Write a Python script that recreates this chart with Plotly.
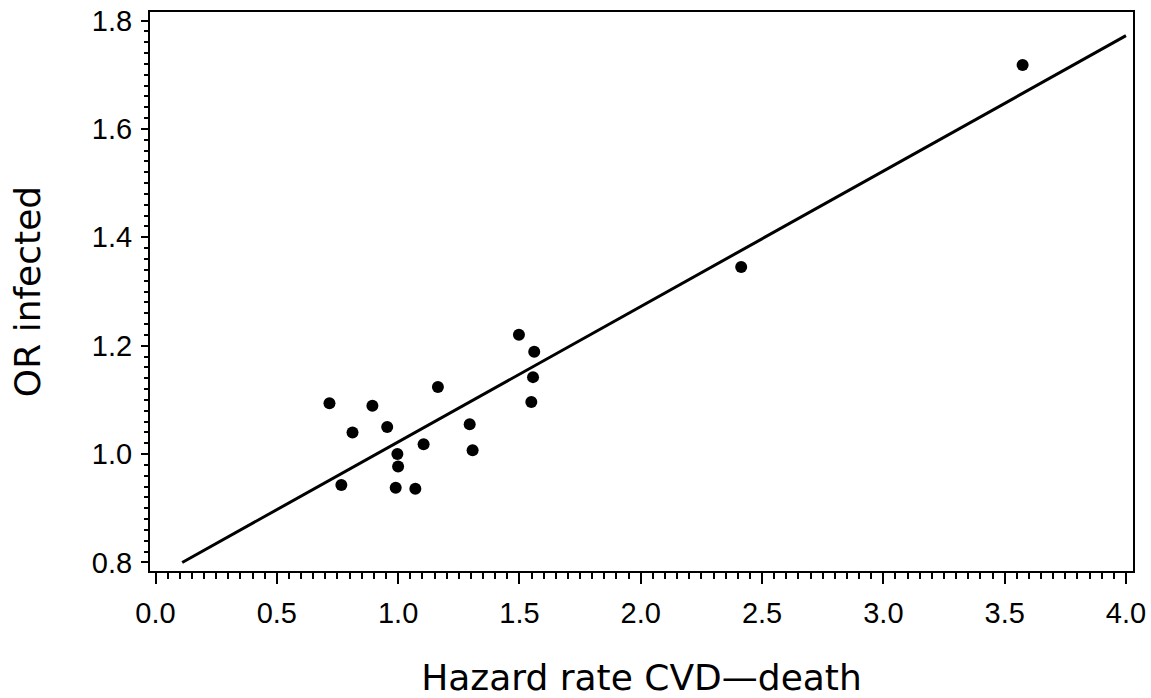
import plotly.graph_objects as go

# Data
hazard_rate = [0.717, 0.766, 0.812, 0.894, 0.955, 0.997, 1.000, 0.990, 1.071, 1.105,
               1.164, 1.295, 1.307, 1.498, 1.561, 1.556, 1.549, 2.414, 3.574]
or_infected = [1.094, 0.943, 1.040, 1.089, 1.050, 1.000, 0.977, 0.938, 0.936, 1.018,
               1.124, 1.055, 1.007, 1.220, 1.189, 1.142, 1.096, 1.345, 1.718]

# Fitted regression line endpoints
fit_x = [0.11, 4.0]
fit_y = [0.800, 1.772]

x_ticks = [0.0, 0.5, 1.0, 1.5, 2.0, 2.5, 3.0, 3.5, 4.0]
y_ticks = [0.8, 1.0, 1.2, 1.4, 1.6, 1.8]

TITLE_FONT = "DejaVu Sans, Liberation Sans, Arial, sans-serif"
TICK_FONT = "Liberation Sans, Arial, sans-serif"

fig = go.Figure()
fig.add_trace(go.Scatter(x=fit_x, y=fit_y, mode="lines",
                         line=dict(color="black", width=3), showlegend=False))
fig.add_trace(go.Scatter(x=hazard_rate, y=or_infected, mode="markers",
                         marker=dict(color="black", size=12), showlegend=False))

fig.update_layout(
    width=1151, height=698,
    margin=dict(l=150, r=18, t=12, b=127),
    paper_bgcolor="white", plot_bgcolor="white",
    font=dict(family=TICK_FONT, color="black"),
    xaxis=dict(
        range=[-0.0227, 4.029], tickvals=x_ticks, tickformat=".1f",
        ticks="outside", ticklen=11, tickwidth=2, tickcolor="black",
        minor=dict(dtick=0.05, tick0=0, ticks="outside", ticklen=6, tickwidth=1.5, tickcolor="black"),
        showline=True, linecolor="black", linewidth=2, mirror=True,
        showgrid=False, zeroline=False,
        tickfont=dict(size=29, family=TICK_FONT, color="black"),
        ticklabelstandoff=4,
        title=dict(text="Hazard rate CVD\u2014death", font=dict(size=36, family=TITLE_FONT, color="black"), standoff=44),
        automargin=False,
    ),
    yaxis=dict(
        range=[0.7843, 1.8157], tickvals=y_ticks, tickformat=".1f",
        ticks="outside", ticklen=7, tickwidth=2, tickcolor="black",
        minor=dict(dtick=0.02, tick0=0.8, ticks="outside", ticklen=4, tickwidth=1.5, tickcolor="black"),
        showline=True, linecolor="black", linewidth=2, mirror=True,
        showgrid=False, zeroline=False,
        tickfont=dict(size=29, family=TICK_FONT, color="black"),
        ticklabelstandoff=3,
        title=dict(text="OR infected", font=dict(size=36, family=TITLE_FONT, color="black"), standoff=40),
        automargin=False,
    ),
)

fig.write_html("out.html")
